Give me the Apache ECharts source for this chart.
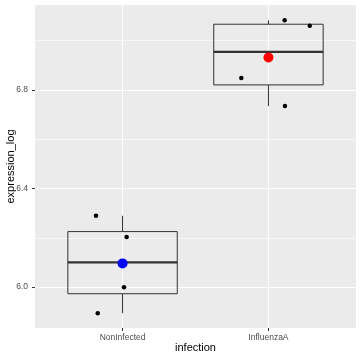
<!DOCTYPE html>
<html>
<head>
<meta charset="utf-8">
<script src="https://cdn.jsdelivr.net/npm/echarts@6/dist/echarts.min.js"></script>
<style>html,body{margin:0;padding:0;background:#fff}#c{width:360px;height:360px}</style>
</head>
<body>
<div id="c"></div>
<script>
const categories = ['NonInfected', 'InfluenzaA'];
const categoryPositions = [1, 2];
// [whiskerLow, Q1, median, Q3, whiskerHigh]
const boxStats = [
  [5.894, 5.973, 6.100, 6.225, 6.289],
  [6.734, 6.820, 6.954, 7.066, 7.082]
];
const meanValues = [6.096, 6.931];
const meanColors = ['#0000FF', '#FF0000'];
const nonInfectedX = [0.818, 1.028, 1.010, 0.830];
const nonInfectedY = [6.289, 6.203, 5.999, 5.894];
const influenzaX = [2.111, 2.283, 1.814, 2.113];
const influenzaY = [7.082, 7.060, 6.848, 6.734];
const yMajorTicks = [6.0, 6.4, 6.8];
const yMinorTicks = [6.2, 6.6, 7.0];
const yTickLabels = ['6.0', '6.4', '6.8'];

const FONT = 'Liberation Sans, Arial, sans-serif';
const chart = echarts.init(document.getElementById('c'), null, {renderer: 'canvas'});

const boxData = boxStats.map((s, i) => [categoryPositions[i]].concat(s));
const jitterData = nonInfectedX.map((x, i) => [x, nonInfectedY[i]])
  .concat(influenzaX.map((x, i) => [x, influenzaY[i]]));
const meanData = meanValues.map((m, i) => ({value: [categoryPositions[i], m], itemStyle: {color: meanColors[i], opacity: 1}}));

const gridLines = [];
yMinorTicks.forEach(v => gridLines.push({yAxis: v, lineStyle: {color: '#FFFFFF', width: 0.6, type: 'solid', opacity: 1}}));
yMajorTicks.forEach(v => gridLines.push({yAxis: v, lineStyle: {color: '#FFFFFF', width: 1.1, type: 'solid', opacity: 1}}));
categoryPositions.forEach(v => gridLines.push({xAxis: v, lineStyle: {color: '#FFFFFF', width: 1.1, type: 'solid', opacity: 1}}));

chart.setOption({
  animation: false,
  backgroundColor: '#FFFFFF',
  grid: {left: 35, right: 4, top: 5, bottom: 32, show: true, backgroundColor: '#EBEBEB', borderWidth: 0, containLabel: false, outerBoundsMode: 'none'},
  xAxis: {
    type: 'value', min: 0.4, max: 2.6,
    name: 'infection', nameLocation: 'middle', nameGap: 14, nameMoveOverlap: false,
    nameTextStyle: {fontFamily: FONT, fontSize: 11, color: '#000000'},
    axisLine: {show: false},
    axisTick: {show: true, customValues: categoryPositions, length: 3, lineStyle: {color: '#333333', width: 1}},
    axisLabel: {
      customValues: categoryPositions, fontFamily: FONT, fontSize: 8.5, color: '#4D4D4D', margin: 5,
      formatter: v => categories[categoryPositions.indexOf(Math.round(v))] || ''
    },
    splitLine: {show: false}
  },
  yAxis: {
    type: 'value', min: 5.834, max: 7.144,
    name: 'expression_log', nameLocation: 'middle', nameGap: 19, nameRotate: 90, nameMoveOverlap: false,
    nameTextStyle: {fontFamily: FONT, fontSize: 11, color: '#000000'},
    axisLine: {show: false},
    axisTick: {show: true, customValues: yMajorTicks, length: 3, lineStyle: {color: '#333333', width: 1}},
    axisLabel: {
      customValues: yMajorTicks, fontFamily: FONT, fontSize: 8.5, color: '#4D4D4D', margin: 7,
      formatter: v => yTickLabels[yMajorTicks.findIndex(t => Math.abs(t - v) < 1e-6)] || ''
    },
    splitLine: {show: false}
  },
  series: [
    {
      type: 'scatter', data: [], z: 1, silent: true,
      markLine: {symbol: 'none', silent: true, label: {show: false}, z: 1, data: gridLines, animation: false}
    },
    {
      type: 'custom', z: 3, data: boxData,
      renderItem: function (params, api) {
        const x = api.value(0);
        const lo = api.value(1), q1 = api.value(2), med = api.value(3), q3 = api.value(4), hi = api.value(5);
        const hw = 0.375;
        const pTL = api.coord([x - hw, q3]);
        const pBR = api.coord([x + hw, q1]);
        const pMedL = api.coord([x - hw, med]);
        const pMedR = api.coord([x + hw, med]);
        const pHi = api.coord([x, hi]);
        const pLo = api.coord([x, lo]);
        const cx = api.coord([x, q3])[0];
        const st = {stroke: '#333333', lineWidth: 1, fill: null};
        return {
          type: 'group',
          children: [
            {type: 'line', shape: {x1: cx, y1: pHi[1], x2: cx, y2: pTL[1]}, style: st},
            {type: 'line', shape: {x1: cx, y1: pBR[1], x2: cx, y2: pLo[1]}, style: st},
            {type: 'rect', shape: {x: pTL[0], y: pTL[1], width: pBR[0] - pTL[0], height: pBR[1] - pTL[1]}, style: st},
            {type: 'line', shape: {x1: pMedL[0], y1: pMedL[1], x2: pMedR[0], y2: pMedR[1]}, style: {stroke: '#333333', lineWidth: 2.2}}
          ]
        };
      }
    },
    {
      type: 'scatter', z: 4, data: jitterData, symbol: 'circle', symbolSize: 4.5,
      itemStyle: {color: '#000000', opacity: 1}
    },
    {
      type: 'scatter', z: 5, data: meanData, symbol: 'circle', symbolSize: 10,
      itemStyle: {opacity: 1}
    }
  ]
});
</script>
</body>
</html>
